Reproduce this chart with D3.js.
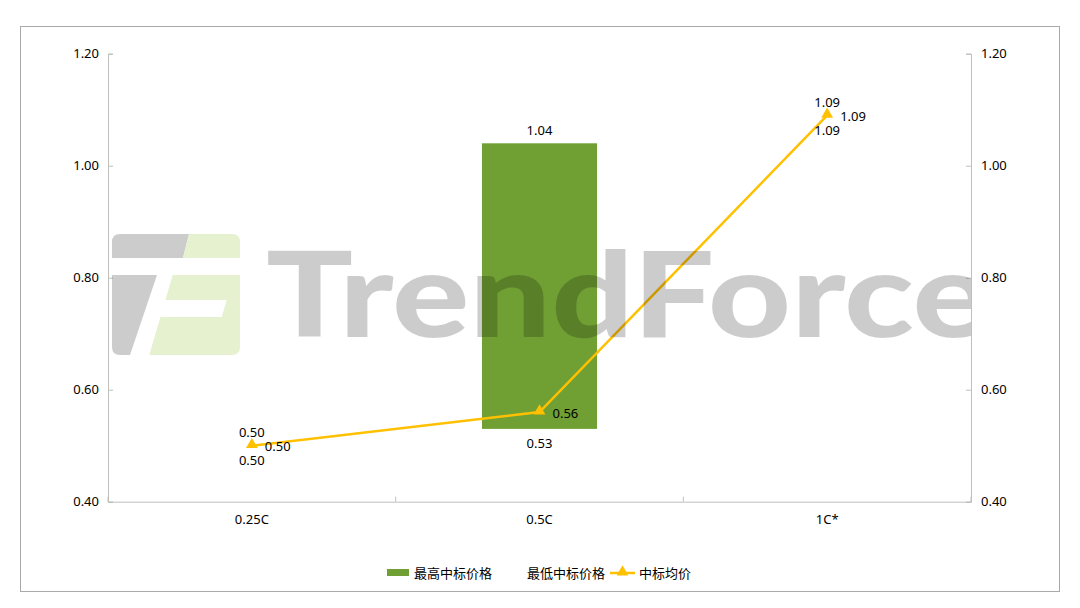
<!DOCTYPE html>
<html><head><meta charset="utf-8">
<script src="https://cdn.jsdelivr.net/npm/d3@7/dist/d3.min.js"></script>
<style>
html,body{margin:0;padding:0;background:#fff;}
text{font-family:"Noto Sans","Noto Sans CJK SC",sans-serif;fill:#000;}
</style></head>
<body>
<svg id="chart" width="1080" height="608"></svg>
<script>
const categories = ["0.25C", "0.5C", "1C*"];
const maxPrice = [0.50, 1.04, 1.09];
const minPrice = [0.50, 0.53, 1.09];
const avgPrice = [0.50, 0.56, 1.09];
const yTicks = [0.40, 0.60, 0.80, 1.00, 1.20];
const legendLabels = ["最高中标价格", "最低中标价格", "中标均价"];

const svg = d3.select("#chart");
const L = 108, R = 971, T = 53.7, B = 501.7;
const barColor = "#70a033", lineColor = "#ffc000", axisColor = "#bfbfbf";

// outer border
svg.append("rect").attr("x", 20.5).attr("y", 26.5).attr("width", 1039).attr("height", 565)
  .attr("fill", "none").attr("stroke", "#a9a9a9").attr("stroke-width", 1);

const x = d3.scaleBand().domain(categories).range([L, R]).padding(0);
const y = d3.scaleLinear().domain([0.40, 1.20]).range([B, T]);
const cx = c => x(c) + x.bandwidth() / 2;

// left axis
const gl = svg.append("g").attr("transform", `translate(${L},0)`)
  .call(d3.axisLeft(y).tickValues(yTicks).tickFormat(d3.format(".2f")).tickSizeInner(-5).tickSizeOuter(-5).tickPadding(9));
// right axis
const gr = svg.append("g").attr("transform", `translate(${R},0)`)
  .call(d3.axisRight(y).tickValues(yTicks).tickFormat(d3.format(".2f")).tickSizeInner(-5).tickSizeOuter(-5).tickPadding(10));
[gl, gr].forEach(g => {
  g.selectAll("path,line").attr("stroke", axisColor);
  g.selectAll("text").style("font-size", "13px").attr("fill", "#000")
    .style("font-family", '"Noto Sans", sans-serif');
});

// bottom axis
const gb = svg.append("g").attr("transform", `translate(0,${B})`)
  .call(d3.axisBottom(x).tickSize(0).tickPadding(13));
gb.select("path").attr("stroke", axisColor);
gb.selectAll("text").style("font-size", "13px").attr("fill", "#000")
  .style("font-family", '"Noto Sans", sans-serif');
const edges = categories.map(c => x(c)).concat([x.range()[1]]);
gb.selectAll("line.edge").data(edges).join("line").attr("class", "edge")
  .attr("x1", d => d).attr("x2", d => d).attr("y1", 0).attr("y2", -5)
  .attr("stroke", axisColor);

// floating bars
const bw = x.bandwidth() * 0.4;
svg.append("g").selectAll("rect").data(categories).join("rect")
  .attr("x", c => cx(c) - bw / 2)
  .attr("y", (c, i) => y(maxPrice[i]))
  .attr("width", bw)
  .attr("height", (c, i) => y(minPrice[i]) - y(maxPrice[i]))
  .attr("fill", barColor);

// average line
const line = d3.line().x((d, i) => cx(categories[i])).y(d => y(d));
svg.append("path").datum(avgPrice).attr("d", line)
  .attr("fill", "none").attr("stroke", lineColor).attr("stroke-width", 2.5);
const tri = d3.symbol().type(d3.symbolTriangle).size(60);
svg.append("g").selectAll("path").data(avgPrice).join("path")
  .attr("d", tri)
  .attr("transform", (d, i) => `translate(${cx(categories[i])},${y(d) - 1})`)
  .attr("fill", lineColor);

// labels
const fmt = d3.format(".2f");
const lab = svg.append("g").style("font-size", "13px");
categories.forEach((c, i) => {
  const px = cx(c);
  const hasBar = maxPrice[i] !== minPrice[i];
  const topY = hasBar ? y(maxPrice[i]) : y(avgPrice[i]);
  const botY = hasBar ? y(minPrice[i]) : y(avgPrice[i]);
  lab.append("text").attr("x", px).attr("y", topY - 13).attr("dy", "0.35em")
    .attr("text-anchor", "middle").text(fmt(maxPrice[i]));
  lab.append("text").attr("x", px).attr("y", botY + 15).attr("dy", "0.35em")
    .attr("text-anchor", "middle").text(fmt(minPrice[i]));
  lab.append("text").attr("x", px + 13).attr("y", y(avgPrice[i]) + 1).attr("dy", "0.35em")
    .attr("text-anchor", "start").text(fmt(avgPrice[i]));
});

// legend
const lg = svg.append("g").style("font-size", "13px");
lg.append("rect").attr("x", 387).attr("y", 569).attr("width", 22).attr("height", 7).attr("fill", barColor);
lg.append("text").attr("x", 414).attr("y", 573).attr("dy", "0.35em")
  .style("font-family", '"Noto Sans CJK SC", sans-serif').text(legendLabels[0]);
lg.append("text").attr("x", 527).attr("y", 573).attr("dy", "0.35em")
  .style("font-family", '"Noto Sans CJK SC", sans-serif').text(legendLabels[1]);
lg.append("line").attr("x1", 610).attr("x2", 635).attr("y1", 573).attr("y2", 573)
  .attr("stroke", lineColor).attr("stroke-width", 2.5);
lg.append("path").attr("d", tri).attr("transform", "translate(622.5,572)").attr("fill", lineColor);
lg.append("text").attr("x", 639).attr("y", 573).attr("dy", "0.35em")
  .style("font-family", '"Noto Sans CJK SC", sans-serif').text(legendLabels[2]);

// watermark (on top)
svg.append("clipPath").attr("id", "wmclip").append("rect")
  .attr("x", L).attr("y", T).attr("width", R - L).attr("height", B - T);
const wm = svg.append("g").attr("clip-path", "url(#wmclip)").style("pointer-events", "none");
const gray = "rgba(0,0,0,0.2)", lgreen = "#e6f1cf";
wm.append("path").attr("fill", gray)
  .attr("d", "M120,234 L189,234 L183,258 L112,258 L112,242 Q112,234 120,234 Z");
wm.append("path").attr("fill", gray)
  .attr("d", "M112,275 L157,275 L130,355 L120,355 Q112,355 112,347 Z");
wm.append("path").attr("fill", lgreen)
  .attr("d", "M189,234 L232,234 Q240,234 240,242 L240,258 L183,258 Z");
wm.append("path").attr("fill", lgreen)
  .attr("d", "M172.7,275 L240,275 L240,347 Q240,355 232,355 L149.3,355 L160.4,317 L221.7,317 L226.7,300 L165.4,300 Z");
wm.append("text").attr("x", 266).attr("y", 337)
  .attr("textLength", 724).attr("lengthAdjust", "spacingAndGlyphs")
  .style("font-family", "Lato, 'Open Sans', sans-serif").style("font-weight", 900)
  .style("font-size", "118px").style("fill", gray).text("TrendForce");
</script>
</body></html>
